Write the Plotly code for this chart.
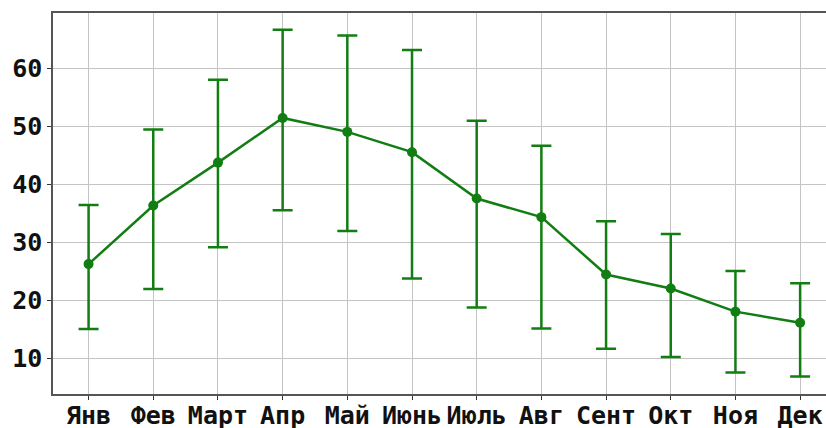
import plotly.graph_objects as go

months = ["Янв", "Фев", "Март", "Апр", "Май", "Июнь", "Июль", "Авг", "Сент", "Окт", "Ноя", "Дек"]
means = [26.2, 36.3, 43.7, 51.4, 49.0, 45.5, 37.5, 34.3, 24.4, 22.0, 18.0, 16.1]
upper = [36.4, 49.4, 58.0, 66.6, 65.6, 63.1, 50.9, 46.6, 33.6, 31.4, 25.0, 22.9]
lower = [15.0, 21.9, 29.1, 35.5, 31.9, 23.7, 18.7, 15.1, 11.6, 10.2, 7.5, 6.8]

err_plus = [u - m for u, m in zip(upper, means)]
err_minus = [m - l for m, l in zip(means, lower)]

green = "#127d12"

fig = go.Figure()
fig.add_trace(go.Scatter(
    x=list(range(len(months))), y=means, mode="lines+markers",
    line=dict(color=green, width=2.5),
    marker=dict(color=green, size=10),
    error_y=dict(type="data", symmetric=False, array=err_plus, arrayminus=err_minus,
                 color=green, thickness=2.5, width=10),
    showlegend=False,
))

font = dict(family="DejaVu Sans Mono", size=25, color="#111111")

fig.update_layout(
    width=826, height=428,
    margin=dict(l=53, r=0, t=13, b=34),
    paper_bgcolor="white", plot_bgcolor="white",
    xaxis=dict(
        tickmode="array", tickvals=list(range(len(months))), ticktext=[f"<b>{m}</b>" for m in months],
        range=[-0.55, 11.4], showgrid=True, gridcolor="#c4c4c4", gridwidth=1,
        showline=True, linecolor="#555555", linewidth=1.5, mirror=True,
        ticks="outside", ticklen=4, tickcolor="#333333", tickfont=font, zeroline=False,
        automargin=False, ticklabelstandoff=-6,
    ),
    yaxis=dict(
        tickvals=[10, 20, 30, 40, 50, 60], ticktext=[f"<b>{v}</b>" for v in [10, 20, 30, 40, 50, 60]],
        range=[3.8, 69.5], showgrid=True, gridcolor="#c4c4c4", gridwidth=1,
        showline=True, linecolor="#555555", linewidth=1.5,
        ticks="outside", ticklen=4, tickcolor="#333333", tickfont=font, zeroline=False,
        automargin=False,
    ),
)

fig.write_html("out.html")
